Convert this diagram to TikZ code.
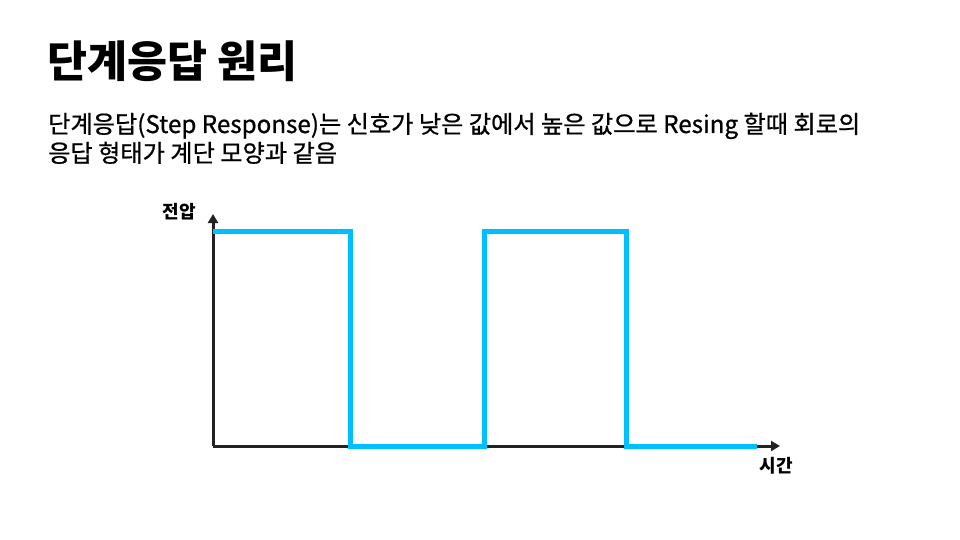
\documentclass[tikz,border=0pt]{standalone}
\usepackage{fontspec}
\setmainfont{Noto Sans CJK KR}
\newfontfamily\kmed[FakeBold=0.8]{Noto Sans CJK KR}
\usetikzlibrary{arrows.meta}
\definecolor{sig}{HTML}{00BFFF}
\definecolor{axc}{HTML}{222222}
\tikzset{
  axis/.style={line width=3pt, draw=axc, -{Triangle[length=9pt,width=10pt]}},
  signal/.style={line width=5pt, draw=sig, line join=miter},
  lab/.style={font=\fontsize{18}{20}\selectfont\bfseries, inner sep=0pt},
  body/.style={anchor=base west, inner sep=0pt, font=\fontsize{24.2}{29}\selectfont\kmed}
}
\begin{document}
\begin{tikzpicture}[x=1pt,y=-1pt]
\useasboundingbox (0,0) rectangle (960,540);
\node[anchor=base west, inner sep=0pt, font=\fontsize{43.5}{48}\selectfont\bfseries] (title) at (47,78) {단계응답 원리};
\node[body] (l1) at (48,133) {단계응답(Step Response)는 신호가 낮은 값에서 높은 값으로 Resing 할때 회로의};
\node[body] (l2) at (48,162) {응답 형태가 계단 모양과 같음};
\coordinate (o) at (213,446);
\coordinate (ytop) at (213,214);
\coordinate (xend) at (780,446);
\draw[axis] (o) -- (ytop);
\draw[axis] (o) -- (xend);
\coordinate (s0) at (213,231);
\coordinate (s1) at (350,231);
\coordinate (s2) at (350,446);
\coordinate (s3) at (484,446);
\coordinate (s4) at (484,231);
\coordinate (s5) at (626,231);
\coordinate (s6) at (626,446);
\coordinate (s7) at (757,446);
\draw[signal] (s0) -- (s1) -- (s2) -- (s3) -- (s4) -- (s5) -- (s6) -- (s7);
\node[lab] (vlab) at (179,212) {전압};
\node[lab] (tlab) at (776,466) {시간};
\end{tikzpicture}
\end{document}
